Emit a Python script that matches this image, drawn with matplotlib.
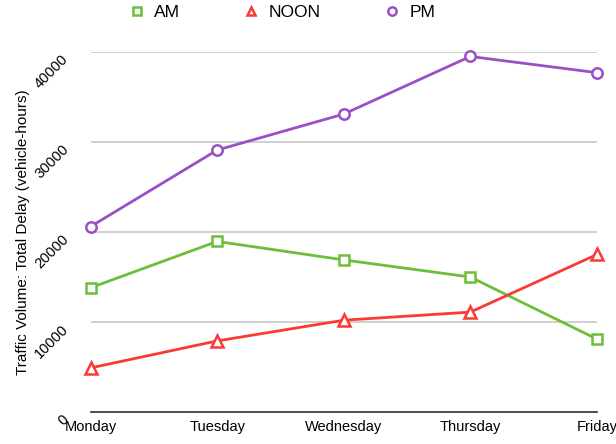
import matplotlib.pyplot as plt

days = ['Monday', 'Tuesday', 'Wednesday', 'Thursday', 'Friday']
am_delay = [13800, 18950, 16900, 15000, 8100]
noon_delay = [4900, 7900, 10200, 11100, 17500]
pm_delay = [20600, 29100, 33100, 39500, 37700]
y_ticks = [0, 10000, 20000, 30000, 40000]

plt.rcParams['font.family'] = ['Liberation Sans', 'DejaVu Sans']

fig = plt.figure(figsize=(6.16, 4.44), dpi=100)
ax = fig.add_axes([0.147, 0.072, 0.822, 0.811])

x = list(range(len(days)))
series = [
    ('AM', am_delay, '#6cbf3a', 's', 7),
    ('NOON', noon_delay, '#f93a35', '^', 8),
    ('PM', pm_delay, '#9b4fc6', 'o', 7.5),
]
for name, vals, color, marker, ms in series:
    ax.plot(x, vals, color=color, lw=2, marker=marker, ms=ms,
            mfc='white', mec=color, mew=1.8, label=name, clip_on=False, zorder=3)

ax.set_xlim(0, 4)
ax.set_ylim(0, 40000)
ax.set_xticks(x)
ax.set_xticklabels(days, fontsize=10.5)
ax.set_yticks(y_ticks)
ax.set_yticklabels([str(t) for t in y_ticks], rotation=45, fontsize=10.5,
                   ha='right', va='top', rotation_mode='anchor')
ax.tick_params(axis='x', length=0, pad=6)
ax.tick_params(axis='y', length=0, pad=21)

for s in ['top', 'right', 'left']:
    ax.spines[s].set_visible(False)
ax.spines['bottom'].set_color('#333333')
ax.spines['bottom'].set_linewidth(1.2)
ax.yaxis.grid(True, color='#c8c8c8', lw=1.2)
ax.set_axisbelow(True)

ax.set_ylabel('Traffic Volume: Total Delay (vehicle-hours)', fontsize=11, labelpad=2)

fig.legend(loc='upper center', bbox_to_anchor=(0.457, 1.025), ncol=3, frameon=False,
           fontsize=12.5, handlelength=1.0, columnspacing=3.6, handletextpad=0.5,
           markerscale=0.8)
for line in fig.legends[0].get_lines():
    line.set_linestyle('none')

fig.savefig('out.png', dpi=100)
